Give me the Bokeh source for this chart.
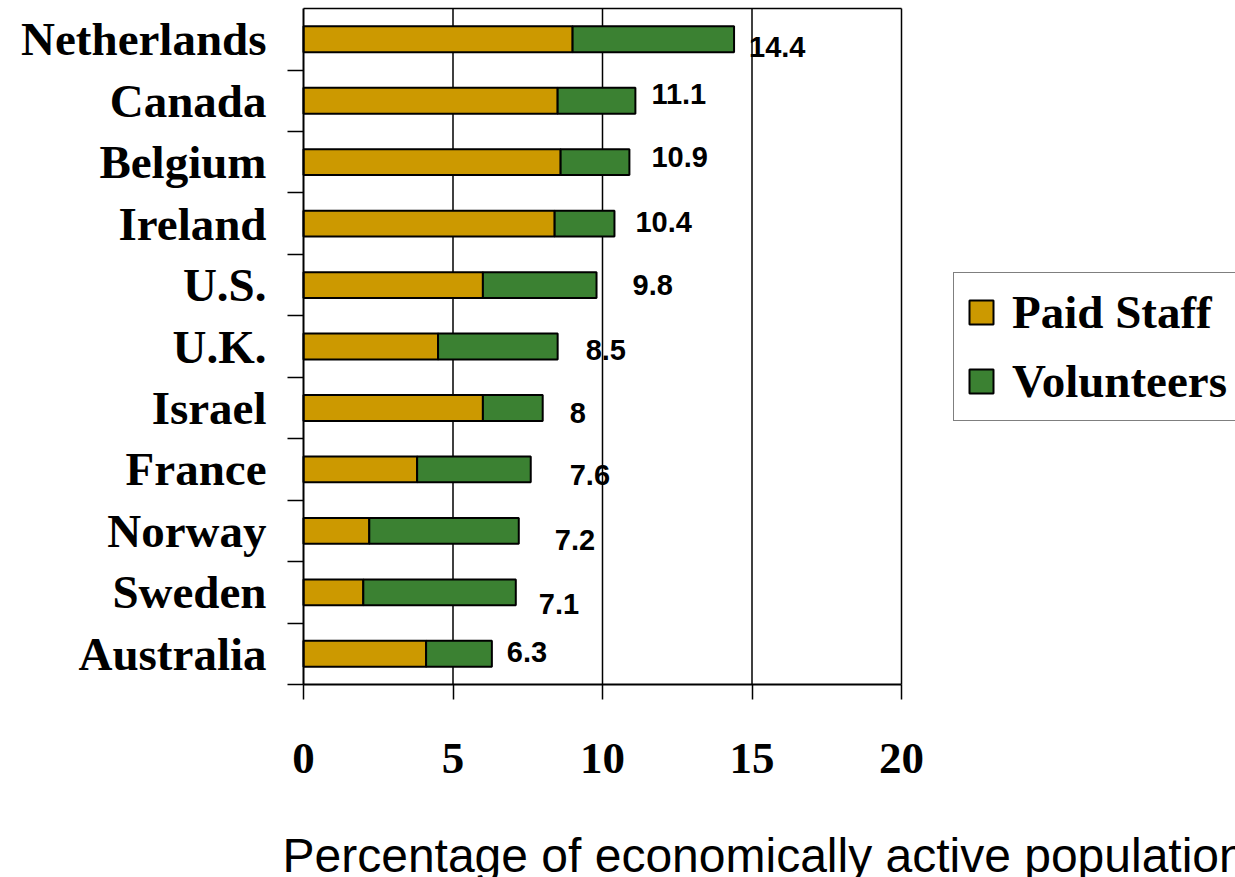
from bokeh.plotting import figure
from bokeh.models import Range1d, FixedTicker, Legend, LegendItem, ColumnDataSource, Label
from bokeh.core.properties import value
from bokeh.embed import file_html
from bokeh.resources import INLINE

# ---- data (top to bottom) ----
countries = ["Netherlands", "Canada", "Belgium", "Ireland", "U.S.", "U.K.",
             "Israel", "France", "Norway", "Sweden", "Australia"]
paid_staff = [9.0, 8.5, 8.6, 8.4, 6.0, 4.5, 6.0, 3.8, 2.2, 2.0, 4.1]
volunteers = [5.4, 2.6, 2.3, 2.0, 3.8, 4.0, 2.0, 3.8, 5.0, 5.1, 2.2]
totals = [14.4, 11.1, 10.9, 10.4, 9.8, 8.5, 8.0, 7.6, 7.2, 7.1, 6.3]
x_ticks = [0, 5, 10, 15, 20]
series_names = ["Paid Staff", "Volunteers"]
x_title = "Percentage of economically active population"

# ---- label styling offsets (pixels) ----
lbl_dx = [15, 16, 22, 21, 36, 28, 27, 39, 36, 23, 15]
lbl_dy = [8, -7, -5, -2, 0, 3, 5, 6, 9, 12, -2]

GOLD = "#CC9900"
GREEN = "#3B8132"

n = len(countries)
ypos = [n - 0.5 - i for i in range(n)]
ends = [p + v for p, v in zip(paid_staff, volunteers)]

src = ColumnDataSource(dict(
    y=ypos, paid=paid_staff, end=ends, total=totals,
    txt=[f"{t:g}" for t in totals], dx=lbl_dx, dy=lbl_dy,
))

# ---- layout (pixels) ----
W, H = 1235, 877
AX_X, AX_Y = 303, 684               # pixel position of the axes' origin
PX_PER_X = 598.0 / x_ticks[-1]      # pixels per x unit
PX_PER_Y = 61.45                    # pixels per category slot

p = figure(width=W, height=H, output_backend="svg", toolbar_location=None,
           x_range=Range1d(-AX_X / PX_PER_X, (W - AX_X) / PX_PER_X),
           y_range=Range1d(-(H - AX_Y) / PX_PER_Y, AX_Y / PX_PER_Y),
           min_border_left=0, min_border_right=0,
           min_border_top=0, min_border_bottom=0)
p.background_fill_color = "white"
p.border_fill_color = "white"
p.outline_line_color = None
p.xgrid.grid_line_color = None
p.ygrid.grid_line_color = None

# plot box: vertical grid lines (incl. right border) and top border
p.segment(x0=x_ticks[1:], y0=0, x1=x_ticks[1:], y1=n, line_color="black", line_width=1.5)
p.segment(x0=0, y0=n, x1=x_ticks[-1], y1=n, line_color="black", line_width=1.5)

r1 = p.hbar(y="y", left=0, right="paid", height=0.42, source=src,
            fill_color=GOLD, line_color="black", line_width=2)
r2 = p.hbar(y="y", left="paid", right="end", height=0.42, source=src,
            fill_color=GREEN, line_color="black", line_width=2)

p.text(x="total", y="y", text="txt", x_offset="dx", y_offset="dy", source=src,
       text_font=value("Liberation Sans"), text_font_style="bold",
       text_font_size=value("29px"),
       text_align="left", text_baseline="middle", text_color="black")

# x axis (fixed at y = 0)
xa = p.xaxis[0]
xa.fixed_location = 0
xa.ticker = FixedTicker(ticks=x_ticks)
xa.bounds = (x_ticks[0], x_ticks[-1])
xa.major_tick_out = 15
xa.major_tick_in = 0
xa.minor_tick_out = 0
xa.minor_tick_in = 0
xa.axis_line_color = "black"
xa.axis_line_width = 2
xa.major_tick_line_color = "black"
xa.major_tick_line_width = 1.5
xa.major_label_standoff = 44
xa.major_label_text_font = "Liberation Serif"
xa.major_label_text_font_style = "bold"
xa.major_label_text_font_size = "45px"
xa.major_label_text_color = "black"

# y axis (fixed at x = 0)
ya = p.yaxis[0]
ya.fixed_location = 0
ya.ticker = FixedTicker(ticks=ypos, minor_ticks=list(range(0, n)))
ya.bounds = (0, n)
ya.major_label_overrides = {y: c for y, c in zip(ypos, countries)}
ya.major_tick_out = 0
ya.major_tick_in = 0
ya.minor_tick_out = 16
ya.minor_tick_in = 0
ya.minor_tick_line_color = "black"
ya.minor_tick_line_width = 1.5
ya.axis_line_color = "black"
ya.axis_line_width = 2
ya.major_label_standoff = 21
ya.major_label_text_font = "Liberation Serif"
ya.major_label_text_font_style = "bold"
ya.major_label_text_font_size = "47px"
ya.major_label_text_color = "black"

# axis title
p.add_layout(Label(x=282, y=22, x_units="screen", y_units="screen", text=x_title,
                   text_font="Liberation Sans", text_font_size="48px",
                   text_align="left", text_baseline="alphabetic", text_color="black"))

legend = Legend(items=[LegendItem(label=series_names[0], renderers=[r1]),
                       LegendItem(label=series_names[1], renderers=[r2])],
                location=(953, H - 421))
legend.border_line_color = "black"
legend.border_line_width = 1.5
legend.background_fill_alpha = 1.0
legend.glyph_width = 30
legend.glyph_height = 30
legend.label_text_font = "Liberation Serif"
legend.label_text_font_style = "bold"
legend.label_text_font_size = "47px"
legend.label_text_color = "black"
legend.label_standoff = 16
legend.padding = 12
legend.spacing = 15
legend.margin = 0
p.add_layout(legend)

open("out.html", "w").write(file_html(p, INLINE))
